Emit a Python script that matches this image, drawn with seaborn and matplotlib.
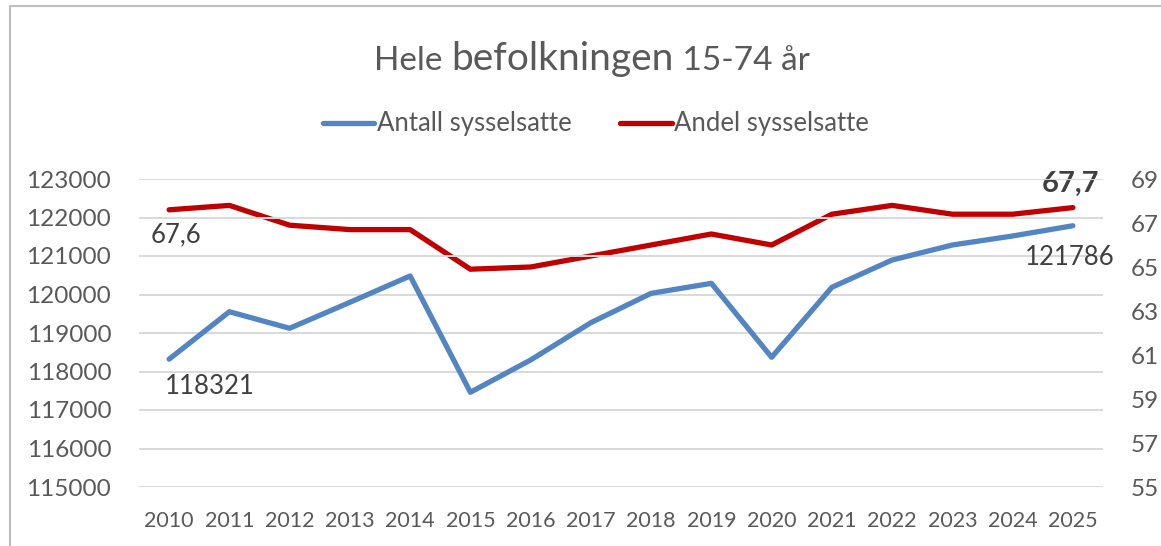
import numpy as np
import pandas as pd
import seaborn as sns
from matplotlib import pyplot as plt

years = list(range(2010, 2026))
antall = [118321, 119553, 119122, 119797, 120481, 117460, 118299, 119268,
          120030, 120290, 118369, 120187, 120896, 121286, 121520, 121786]
andel = [67.6, 67.8, 66.9, 66.7, 66.7, 64.9, 65.0, 65.5,
         66.0, 66.5, 66.0, 67.4, 67.8, 67.4, 67.4, 67.7]

left_ticks = list(range(115000, 124000, 1000))
right_ticks = list(range(55, 70, 2))

blue = '#5485c3'
red = '#c00000'
grey = '#595959'

sns.set_theme(style='white')
plt.rcParams['font.family'] = ['Lato', 'DejaVu Sans']

df = pd.DataFrame({'year': years, 'antall': antall, 'andel': andel})

fig = plt.figure(figsize=(11.61, 5.46), dpi=100)
ax = fig.add_axes([139 / 1161, 1 - 487 / 546, (1103 - 139) / 1161, (487 - 179) / 546])
ax2 = ax.twinx()

sns.lineplot(data=df, x='year', y='antall', ax=ax, color=blue, linewidth=3.8,
             solid_capstyle='round', label='Antall sysselsatte', legend=False)
sns.lineplot(data=df, x='year', y='andel', ax=ax2, color=red, linewidth=3.8,
             solid_capstyle='round', label='Andel sysselsatte', legend=False)

ax.set_xlim(2009.5, 2025.5)
ax.set_ylim(115000, 123000)
ax2.set_ylim(55, 69)
ax.set_yticks(left_ticks)
ax2.set_yticks(right_ticks)
ax.set_xticks(years)
ax.set_xticklabels([str(y) for y in years])
ax.yaxis.grid(True, color='#d9d9d9', linewidth=1.4)
ax.set_axisbelow(True)
for a in (ax, ax2):
    for s in a.spines.values():
        s.set_visible(False)
    a.set_xlabel('')
    a.set_ylabel('')
    a.tick_params(length=0, colors=grey, labelsize=17.5)
ax.tick_params(axis='y', pad=20)
ax2.tick_params(axis='y', pad=20)
ax.tick_params(axis='x', pad=17, labelsize=15.5)
ax.set_zorder(ax2.get_zorder() + 1)
ax.patch.set_visible(False)

# data labels
ax2.annotate(f'{andel[0]:.1f}'.replace('.', ','), (years[0], andel[0]),
             xytext=(-13, -18), textcoords='offset points', ha='left', va='center',
             fontsize=18.5, color='#404040')
ax.annotate(str(antall[0]), (years[0], antall[0]),
            xytext=(-3, -20), textcoords='offset points', ha='left', va='center',
            fontsize=18.5, color='#404040')
ax2.annotate(f'{andel[-1]:.1f}'.replace('.', ','), (years[-1], andel[-1]),
             xytext=(-2, 17), textcoords='offset points', ha='center', va='center',
             fontsize=21, fontweight='bold', color='#404040')
ax.annotate(str(antall[-1]), (years[-1], antall[-1]),
            xytext=(-2, -23), textcoords='offset points', ha='center', va='center',
            fontsize=18.5, color='#404040')

# title with larger middle word
fig.canvas.draw()
r = fig.canvas.get_renderer()
parts = [('Hele ', 24), ('befolkningen', 28), (' 15-74 år', 24)]
texts = [fig.text(0, 1 - 70 / 546, p, fontsize=s, color=grey, va='baseline') for p, s in parts]
widths = [t.get_window_extent(r).width for t in texts]
x0 = 592 - sum(widths) / 2
for t, w in zip(texts, widths):
    t.set_x(x0 / 1161)
    x0 += w

h1, l1 = ax.get_legend_handles_labels()
h2, l2 = ax2.get_legend_handles_labels()
fig.legend(h1 + h2, l1 + l2, loc='center', bbox_to_anchor=(596 / 1161, 1 - 124 / 546),
           ncol=2, frameon=False, fontsize=18.5, handlelength=2.0, handletextpad=0.1,
           columnspacing=1.9, labelcolor=grey)

# outer frame (top and left edges visible)
fig.add_artist(plt.Line2D([10 / 1161, 10 / 1161], [0, 1 - 6 / 546], color='#bfbfbf', linewidth=1.5))
fig.add_artist(plt.Line2D([10 / 1161, 1], [1 - 6 / 546, 1 - 6 / 546], color='#bfbfbf', linewidth=1.5))

fig.savefig('out.png', dpi=100)
